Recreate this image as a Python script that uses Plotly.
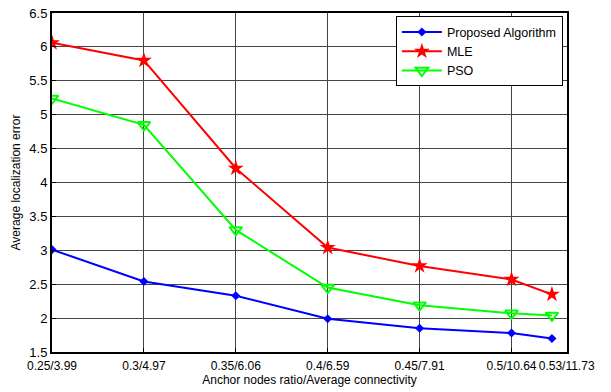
import plotly.graph_objects as go

x_vals = [0.25, 0.30, 0.35, 0.40, 0.45, 0.50, 0.522]
tick_vals = [0.25, 0.30, 0.35, 0.40, 0.45, 0.50, 0.53]
tick_text = ["0.25/3.99", "0.3/4.97", "0.35/6.06", "0.4/6.59", "0.45/7.91", "0.5/10.64", "0.53/11.73"]
y_tick_vals = [1.5, 2, 2.5, 3, 3.5, 4, 4.5, 5, 5.5, 6, 6.5]
y_tick_text = ["1.5", "2", "2.5", "3", "3.5", "4", "4.5", "5", "5.5", "6", "6.5"]

proposed = [3.01, 2.54, 2.33, 1.99, 1.85, 1.78, 1.70]
mle = [6.06, 5.80, 4.21, 3.04, 2.77, 2.57, 2.35]
pso = [5.24, 4.85, 3.30, 2.45, 2.19, 2.07, 2.04]

fig = go.Figure()
fig.add_trace(go.Scatter(x=x_vals, y=proposed, name="Proposed Algorithm", mode="lines+markers",
                         line=dict(color="#0000ff", width=2),
                         marker=dict(symbol="diamond", size=7, color="#0000ff")))
fig.add_trace(go.Scatter(x=x_vals, y=mle, name="MLE", mode="lines+markers",
                         line=dict(color="#ff0000", width=2),
                         marker=dict(symbol="star", size=12, color="#ff0000")))
fig.add_trace(go.Scatter(x=x_vals, y=pso, name="PSO", mode="lines+markers",
                         line=dict(color="#00ff00", width=2),
                         marker=dict(symbol="triangle-down-open", size=11, color="#00ff00",
                                     line=dict(width=2, color="#00ff00"))))

fig.update_layout(
    width=611, height=392,
    margin=dict(l=52, r=44, t=13, b=40),
    paper_bgcolor="white", plot_bgcolor="white",
    font=dict(family="Liberation Sans, Arial, sans-serif", size=12, color="black"),
    showlegend=True,
    legend=dict(x=0.992, y=0.99, xanchor="right", yanchor="top",
                bgcolor="white", bordercolor="black", borderwidth=1,
                font=dict(size=12.5), tracegroupgap=0, itemwidth=40),
)
fig.update_xaxes(range=[0.25, 0.5302], tickvals=tick_vals, ticktext=tick_text, tickangle=0,
                 showgrid=True, gridcolor="#444444", gridwidth=1,
                 showline=True, linecolor="black", linewidth=2, mirror=True,
                 ticks="inside", ticklen=4, tickcolor="black", automargin=False,
                 ticklabelstandoff=2,
                 zeroline=False, tickfont=dict(size=12),
                 title=dict(text="Anchor nodes ratio/Average connectivity", font=dict(size=12), standoff=0))
fig.update_yaxes(range=[1.5, 6.5], tickvals=y_tick_vals, ticktext=y_tick_text,
                 showgrid=True, gridcolor="#444444", gridwidth=1,
                 showline=True, linecolor="black", linewidth=2, mirror=True,
                 ticks="inside", ticklen=4, tickcolor="black", automargin=False,
                 zeroline=False, tickfont=dict(size=13),
                 title=dict(text="Average localization error", font=dict(size=12), standoff=6))

fig.write_html("out.html", config={"displayModeBar": False},
               post_script="document.body.style.margin='0';document.body.style.overflow='hidden';")
